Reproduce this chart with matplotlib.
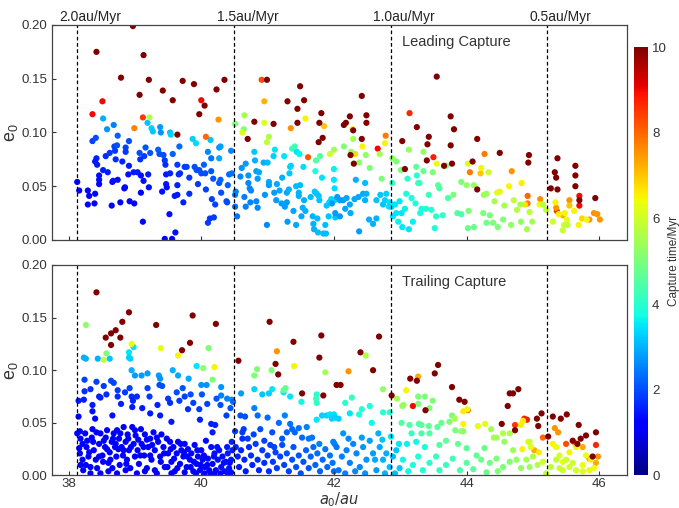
import numpy as np
import matplotlib.pyplot as plt
from matplotlib.cm import ScalarMappable
from matplotlib.colors import Normalize

plt.rcParams['font.family'] = ['Liberation Sans', 'DejaVu Sans']

# semi-major axis where migration speed hits the marked values (au)
speed_a = [38.13, 40.50, 42.86, 45.21]
speed_labels = ['2.0au/Myr', '1.5au/Myr', '1.0au/Myr', '0.5au/Myr']

# ---- leading capture: (a0, e0, capture time in Myr) ----
lead_late = [  # dark red, late captures
    (38.97, .199, 10), (38.42, .175, 10), (39.13, .172, 10), (38.79, .151, 10), (39.21, .149, 10),
    (39.07, .135, 10), (39.42, .139, 10), (39.57, .130, 10), (39.72, .148, 10), (39.89, .145, 10),
    (40.05, .125, 10), (39.97, .117, 10), (40.23, .140, 10), (40.35, .149, 10), (39.64, .098, 10),
    (40.99, .149, 10), (41.30, .129, 10), (41.55, .130, 10), (41.49, .143, 10), (41.45, .122, 10),
    (40.70, .094, 10), (40.80, .110, 10), (41.09, .108, 10), (41.45, .109, 10), (41.81, .118, 10),
    (41.78, .109, 10), (41.83, .095, 10), (41.77, .091, 10),
    (43.55, .152, 10), (42.42, .134, 10), (42.24, .115, 10), (42.18, .109, 10), (42.15, .107, 10),
    (42.49, .116, 10), (42.49, .109, 10), (42.29, .102, 10), (42.42, .094, 10), (42.25, .079, 10),
    (42.30, .071, 10), (43.03, .092, 10), (43.07, .066, 10), (43.25, .105, 10), (43.43, .096, 10),
    (43.41, .089, 10), (43.40, .074, 10), (43.66, .069, 10), (43.76, .115, 10), (43.81, .103, 10),
    (43.76, .088, 10), (43.78, .071, 10), (44.16, .094, 10), (44.09, .073, 10), (44.16, .047, 10),
    (44.50, .081, 10), (44.94, .079, 10), (44.93, .072, 10), (45.37, .076, 10), (45.33, .063, 10),
    (45.35, .058, 10), (45.27, .048, 10), (45.37, .047, 10), (45.64, .069, 10), (45.64, .060, 10),
    (45.64, .050, 10), (45.70, .037, 10), (45.94, .039, 10),
]
lead_mid = [  # red, orange, yellow and green captures
    (38.51, .129, 9.0), (38.36, .117, 9.0), (40.00, .130, 9.0), (39.12, .114, 8.5), (38.99, .104, 7.7),
    (40.07, .096, 8.0), (40.26, .112, 7.5), (40.91, .149, 8.3), (40.95, .129, 7.2), (41.35, .104, 7.5),
    (41.61, .077, 8.2), (41.85, .106, 7.0), (41.57, .113, 6.5), (40.95, .109, 6.2), (40.65, .116, 5.5),
    (40.64, .103, 5.0), (40.62, .100, 6.2), (41.02, .096, 5.6), (40.99, .091, 5.8), (40.51, .108, 5.0),
    (39.22, .114, 5.6), (41.94, .080, 6.0), (42.00, .084, 5.5),
    (42.66, .085, 9.0), (43.14, .118, 8.7), (43.50, .077, 8.8), (45.70, .041, 9.0), (45.70, .032, 9.0),
    (45.36, .027, 8.5), (42.78, .097, 7.8), (44.27, .080, 7.8), (44.05, .063, 7.8), (44.68, .064, 7.5),
    (44.21, .062, 7.0), (44.92, .041, 8.0), (44.92, .034, 7.8), (45.11, .038, 7.6), (45.35, .030, 7.5),
    (45.55, .037, 7.5), (45.55, .032, 7.0), (45.92, .025, 7.5), (45.97, .024, 7.5), (46.01, .019, 7.5),
    (45.85, .019, 7.5), (45.45, .023, 7.3),
    (42.28, .103, 6.5), (42.43, .087, 6.5), (42.32, .080, 6.8), (42.77, .090, 6.5), (43.55, .071, 6.3),
    (44.22, .067, 6.5), (44.50, .045, 6.5), (44.64, .050, 6.5), (44.83, .053, 6.6), (44.88, .033, 6.7),
    (45.10, .033, 6.3), (45.34, .035, 6.5), (45.39, .024, 6.5), (45.48, .025, 6.5), (45.62, .027, 6.5),
    (45.69, .014, 6.5), (45.74, .020, 6.8), (45.81, .019, 6.5), (45.51, .019, 6.3), (45.47, .014, 6.0),
    (44.02, .071, 6.2), (44.33, .063, 6.0), (44.46, .044, 6.2),
    (42.29, .094, 5.5), (42.26, .082, 5.3), (42.48, .079, 5.3), (42.38, .072, 5.2), (42.54, .067, 5.0),
    (42.15, .087, 5.0), (42.72, .057, 5.0), (42.69, .080, 5.5), (42.88, .076, 5.3), (42.94, .073, 5.0),
    (43.13, .084, 5.3), (43.01, .065, 5.0), (43.24, .068, 4.7), (43.35, .082, 5.3), (43.35, .064, 4.8),
    (43.49, .063, 5.0), (43.57, .051, 4.6), (43.69, .069, 5.0), (43.92, .054, 5.0), (43.80, .042, 5.0),
    (44.00, .051, 5.3), (44.11, .051, 5.3), (44.26, .042, 5.4), (44.30, .043, 5.4), (44.42, .036, 5.5),
    (44.57, .032, 5.5), (44.71, .037, 5.8), (44.76, .028, 5.7), (44.81, .033, 5.5), (44.99, .017, 5.5),
    (44.95, .026, 5.8), (45.15, .033, 5.8), (45.20, .028, 5.8), (45.30, .017, 6.0), (45.45, .009, 5.9),
    (45.52, .014, 5.8), (44.03, .027, 5.0), (44.25, .025, 5.0), (44.35, .023, 5.0), (44.40, .016, 5.0),
    (44.47, .012, 5.0), (44.55, .019, 5.1), (44.67, .014, 5.3), (44.82, .017, 5.3), (44.91, .010, 5.5),
    (44.02, .011, 4.8), (44.11, .012, 4.8), (44.30, .016, 4.9),
]
lead_early = [  # blue to cyan, early captures
    (38.13, .054, 1.3), (38.16, .046, 1.3), (38.29, .046, 1.3), (38.31, .041, 1.3), (38.29, .033, 1.3),
    (38.39, .034, 1.3), (38.40, .043, 1.3), (38.36, .092, 1.9), (38.41, .095, 2.0), (38.42, .076, 1.6),
    (38.40, .073, 1.5), (38.43, .070, 1.5), (38.46, .060, 1.4), (38.46, .056, 1.4), (38.46, .052, 1.3),
    (38.52, .065, 1.5), (38.56, .078, 1.7), (38.59, .063, 1.5), (38.62, .081, 1.8), (38.66, .054, 1.3),
    (38.65, .032, 1.3), (38.69, .087, 1.9), (38.70, .083, 1.8), (38.71, .075, 1.7), (38.73, .088, 2.0),
    (38.74, .097, 2.2), (38.67, .055, 1.4), (38.74, .056, 1.4), (38.81, .073, 1.6), (38.85, .049, 1.3),
    (38.86, .086, 1.9), (38.84, .048, 1.3), (38.78, .035, 1.3), (38.86, .082, 1.8), (38.91, .092, 2.0),
    (38.91, .069, 1.5), (38.90, .061, 1.4), (38.92, .036, 1.3), (38.98, .063, 1.5), (38.99, .034, 1.3),
    (39.04, .063, 1.5), (39.07, .081, 2.0), (39.08, .075, 1.7), (39.09, .060, 1.4), (39.09, .044, 1.3),
    (39.12, .017, 1.3), (39.13, .055, 1.4), (39.14, .078, 1.8), (39.16, .086, 2.1), (39.20, .061, 1.5),
    (39.21, .049, 1.4), (39.23, .081, 2.1), (39.35, .084, 2.2), (39.37, .080, 2.0), (39.41, .045, 1.4),
    (39.43, .079, 2.0), (39.45, .074, 1.8), (39.46, .070, 1.7), (39.47, .061, 1.5), (39.45, .001, 1.3),
    (39.47, .052, 1.5), (39.48, .049, 1.4), (39.52, .024, 1.4), (39.53, .062, 1.6), (39.57, .080, 2.2),
    (39.56, .001, 1.3), (39.61, .007, 1.4), (39.60, .041, 1.5), (39.64, .070, 1.8), (39.64, .051, 1.6),
    (39.64, .042, 1.5), (39.66, .061, 1.7), (39.67, .087, 2.3), (39.68, .062, 1.7), (39.73, .035, 1.6),
    (39.75, .068, 1.8), (39.78, .068, 1.9), (39.82, .058, 1.8), (39.82, .043, 1.7), (39.90, .068, 2.0),
    (39.93, .065, 2.0), (39.95, .052, 1.8), (39.97, .065, 2.0), (40.00, .062, 2.0), (40.04, .070, 2.2),
    (40.06, .062, 2.0), (40.07, .047, 1.9), (40.10, .016, 1.8), (40.13, .020, 1.8), (40.15, .064, 2.1),
    (40.15, .076, 2.4), (40.16, .038, 1.9), (40.18, .057, 2.1), (40.19, .021, 1.8), (40.21, .033, 1.9),
    (40.27, .053, 2.1), (40.29, .056, 2.2), (40.30, .044, 2.0), (40.38, .036, 2.0), (40.39, .035, 2.0),
    (40.40, .051, 2.2), (40.42, .061, 2.3), (40.45, .083, 2.6), (40.46, .062, 2.4),
    (38.52, .113, 3.0), (38.58, .103, 2.7), (38.68, .107, 2.5), (39.19, .109, 3.2), (39.25, .104, 3.3),
    (39.27, .101, 3.2), (39.38, .105, 2.8), (39.53, .100, 3.2), (39.54, .098, 3.3), (39.39, .100, 2.7),
    (39.87, .094, 3.3), (39.92, .090, 3.4), (40.14, .093, 3.2), (40.10, .082, 2.6), (40.27, .086, 2.7),
    (40.29, .087, 2.8), (40.27, .076, 2.9),
    (40.52, .045, 2.5), (40.51, .042, 2.5), (40.54, .022, 2.4), (40.51, .031, 2.4), (40.59, .059, 2.6),
    (40.61, .067, 2.7), (40.65, .040, 2.5), (40.67, .071, 2.8), (40.67, .031, 2.5), (40.71, .060, 2.7),
    (40.71, .053, 2.6), (40.73, .048, 2.6), (40.74, .035, 2.5), (40.75, .046, 2.6), (40.80, .082, 3.2),
    (40.81, .074, 3.0), (40.83, .064, 2.8), (40.83, .036, 2.6), (40.85, .030, 2.6), (40.85, .057, 2.8),
    (40.87, .063, 2.9), (40.94, .072, 3.0), (40.96, .042, 2.7), (40.99, .014, 2.6), (41.00, .072, 3.1),
    (41.02, .054, 2.9), (41.02, .051, 2.8), (41.09, .078, 3.3), (41.10, .044, 2.8), (41.11, .084, 3.5),
    (41.13, .037, 2.8), (41.14, .052, 2.9), (41.18, .046, 2.9), (41.21, .034, 2.8), (41.22, .058, 3.0),
    (41.25, .078, 3.5), (41.26, .031, 2.8), (41.29, .044, 2.9), (41.29, .035, 2.8), (41.30, .017, 2.8),
    (41.32, .047, 3.0), (41.33, .062, 3.2), (41.34, .068, 3.3), (41.35, .069, 3.3), (41.37, .085, 4.2),
    (41.39, .027, 2.9), (41.41, .087, 4.3), (41.43, .050, 3.1), (41.43, .014, 2.9), (41.44, .082, 3.5),
    (41.47, .044, 3.0), (41.47, .041, 3.0), (41.49, .051, 3.1), (41.48, .080, 3.6), (41.51, .022, 2.9),
    (41.53, .030, 3.0), (41.54, .068, 3.4), (41.55, .037, 3.0), (41.57, .027, 3.0), (41.65, .040, 3.1),
    (41.68, .022, 3.0), (41.69, .015, 3.0), (41.70, .010, 3.0), (41.71, .045, 3.2), (41.72, .064, 3.8),
    (41.73, .074, 4.5), (41.74, .043, 3.2), (41.75, .020, 3.1), (41.76, .007, 3.1), (41.77, .041, 3.2),
    (41.78, .037, 3.2), (41.79, .078, 4.5), (41.82, .058, 3.5), (41.84, .006, 3.1), (41.88, .006, 3.1),
    (41.87, .014, 3.1), (41.89, .032, 3.2), (41.92, .022, 3.2), (41.93, .035, 3.3), (41.96, .038, 3.3),
    (42.00, .066, 3.6), (42.00, .056, 3.5), (42.01, .048, 3.4), (42.01, .037, 3.3), (42.02, .021, 3.2),
    (42.88, .053, 4.2), (43.11, .057, 4.0), (43.25, .060, 4.0), (43.27, .053, 4.2), (43.29, .053, 4.2),
    (43.43, .042, 4.2), (43.59, .048, 4.4), (43.72, .039, 4.5), (43.86, .025, 4.5), (43.92, .024, 4.4),
    (43.09, .043, 3.8), (43.17, .039, 3.8), (43.23, .034, 3.8), (43.32, .029, 3.9), (43.39, .029, 3.9),
    (43.47, .028, 4.0), (43.54, .022, 4.0), (43.52, .011, 3.8), (43.64, .023, 4.1), (43.19, .017, 3.6),
    (43.03, .012, 3.5), (43.13, .010, 3.5), (42.97, .017, 3.6), (43.30, .025, 3.8),
    (41.97, .034, 2.8), (42.05, .040, 2.8), (42.09, .037, 2.8), (42.14, .037, 2.8), (42.19, .039, 2.9),
    (42.24, .033, 2.9), (42.31, .038, 2.9), (42.37, .040, 2.9), (42.44, .043, 2.9), (42.49, .043, 3.0),
    (42.47, .037, 3.0), (42.02, .025, 2.8), (42.09, .022, 2.8), (42.17, .029, 2.9), (42.25, .025, 2.9),
    (42.33, .056, 3.0), (42.47, .053, 3.1), (42.38, .008, 2.8), (42.53, .019, 3.0), (42.59, .015, 3.0),
    (42.64, .020, 3.0), (42.70, .042, 3.2), (42.77, .037, 3.3), (42.79, .043, 3.3), (42.83, .031, 3.4),
    (42.84, .035, 3.4), (42.87, .031, 3.4), (42.92, .033, 3.5), (42.99, .036, 3.5), (42.94, .025, 3.5),
    (42.89, .022, 3.5), (43.02, .025, 3.5), (42.74, .033, 3.2), (42.64, .037, 3.2), (43.07, .029, 3.6),
]

# ---- trailing capture: (a0, e0, capture time in Myr) ----
trail_late = [
    (38.42, .174, 10), (38.91, .155, 10), (38.81, .146, 10), (38.71, .138, 10), (38.64, .135, 10),
    (38.56, .131, 10), (38.64, .124, 10), (38.78, .131, 10), (39.32, .143, 10), (39.87, .152, 10),
    (39.83, .126, 10), (39.71, .119, 10), (40.22, .144, 10), (40.56, .109, 10), (41.03, .146, 10),
    (41.39, .127, 10), (41.81, .133, 10), (41.78, .112, 10), (41.12, .106, 10), (41.16, .096, 10),
    (41.52, .078, 10), (41.84, .076, 10), (42.04, .086, 10),
    (42.68, .132, 10), (42.40, .117, 10), (42.59, .100, 10), (42.10, .086, 10), (42.87, .076, 10),
    (43.57, .105, 10), (43.52, .097, 10), (43.15, .092, 10), (43.25, .090, 10), (43.78, .084, 10),
    (43.89, .072, 10), (43.97, .070, 10), (43.38, .062, 10), (44.78, .082, 10), (44.65, .078, 10),
    (44.70, .078, 10), (44.62, .066, 10), (44.53, .049, 10), (44.73, .043, 10), (45.13, .059, 10),
    (45.06, .054, 10), (45.08, .047, 10), (45.30, .056, 10), (45.42, .054, 10), (45.51, .058, 10),
    (45.69, .048, 10), (45.23, .037, 10), (45.95, .041, 10), (45.80, .038, 10), (45.72, .035, 10),
    (45.60, .033, 10), (45.67, .030, 10), (45.90, .018, 10), (43.19, .066, 9.0),
]
trail_mid = [
    (41.14, .118, 7.5), (41.40, .104, 6.5), (40.20, .103, 6.5), (39.65, .114, 6.5), (39.39, .121, 6.3),
    (38.95, .125, 6.3), (38.53, .110, 5.8), (38.26, .143, 5.2), (38.57, .116, 5.0), (40.11, .121, 5.0),
    (40.03, .102, 5.2), (40.17, .091, 5.0), (40.84, .101, 5.0), (40.80, .095, 5.0), (41.06, .100, 5.0),
    (41.87, .098, 5.5), (41.27, .083, 4.7), (41.24, .081, 4.7),
    (44.87, .054, 8.8), (44.91, .053, 8.8), (44.73, .048, 8.5), (45.95, .029, 8.7), (45.50, .030, 8.3),
    (45.15, .036, 8.0), (42.22, .099, 7.5), (43.27, .094, 7.3), (44.02, .062, 7.7), (45.33, .045, 7.5),
    (45.38, .041, 7.5), (45.63, .031, 7.5), (45.75, .027, 7.3), (45.85, .016, 7.6), (45.98, .018, 7.5),
    (45.95, .012, 7.3), (45.02, .024, 7.3),
    (43.09, .081, 6.5), (43.95, .061, 6.6), (44.01, .063, 6.5), (43.95, .049, 6.5), (44.17, .047, 6.3),
    (44.28, .049, 6.2), (44.85, .052, 6.6), (44.82, .048, 6.6), (44.84, .025, 6.5), (44.93, .032, 6.3),
    (45.09, .022, 6.6), (45.30, .030, 6.5), (45.35, .027, 6.3), (45.55, .022, 6.5), (45.65, .027, 6.5),
    (45.80, .019, 6.4), (45.87, .015, 6.6), (45.92, .007, 6.4), (45.75, .010, 6.3), (45.45, .013, 6.3),
    (45.40, .019, 6.1), (45.15, .013, 6.0), (44.97, .027, 6.2),
    (42.48, .114, 5.6), (42.74, .082, 5.3), (42.95, .073, 5.5), (43.03, .066, 5.5), (43.05, .067, 5.3),
    (43.27, .075, 5.0), (43.37, .075, 5.0), (43.27, .068, 5.0), (43.44, .064, 5.0), (43.49, .071, 5.0),
    (43.78, .057, 5.0), (43.82, .054, 5.5), (43.92, .042, 5.3), (43.95, .042, 5.2), (44.37, .044, 5.5),
    (44.41, .036, 5.5), (44.45, .036, 5.5), (44.55, .040, 5.7), (44.65, .040, 5.6), (44.95, .032, 6.0),
    (44.57, .032, 5.3), (44.70, .024, 5.4), (44.75, .015, 5.3), (44.90, .015, 5.5), (45.00, .018, 5.6),
    (45.07, .010, 5.7), (45.20, .002, 5.8), (45.35, .015, 5.8), (45.27, .008, 5.8), (45.45, .005, 6.0),
    (45.55, .008, 6.0), (45.65, .005, 6.0), (45.75, .004, 6.2), (45.85, .005, 6.3), (45.40, .007, 5.9),
    (45.50, .015, 6.0), (45.60, .012, 6.0),
    (43.02, .050, 4.5), (43.14, .048, 4.5), (43.28, .049, 4.5), (43.32, .048, 4.6), (43.43, .047, 4.7),
    (43.62, .050, 4.8), (43.74, .051, 5.0), (43.83, .043, 5.0), (43.17, .040, 4.2), (43.32, .040, 4.4),
    (43.44, .040, 4.5), (43.56, .046, 4.6), (43.69, .033, 4.7), (43.59, .029, 4.5), (43.87, .030, 4.7),
    (44.00, .026, 4.6), (44.15, .019, 4.7), (44.27, .026, 4.8), (44.22, .015, 4.8), (44.35, .012, 4.9),
    (44.45, .016, 5.0), (44.55, .008, 5.0), (44.65, .013, 5.1), (44.47, .004, 5.0), (44.30, .003, 4.8),
    (44.10, .006, 4.6), (44.00, .012, 4.5), (43.90, .005, 4.4), (43.79, .016, 4.3), (43.69, .010, 4.2),
    (43.59, .005, 4.1), (43.54, .018, 4.2), (43.44, .012, 4.0), (43.34, .005, 3.9), (43.27, .018, 3.9),
    (43.19, .010, 3.8), (43.12, .004, 3.7), (43.04, .015, 3.7), (44.82, .007, 5.3), (44.95, .008, 5.4),
]
trail_early = [
    (38.23, .112, 3.0), (38.26, .111, 3.0), (38.44, .111, 3.0), (38.62, .111, 3.2), (38.91, .117, 3.5),
    (38.91, .112, 3.3), (38.93, .111, 3.3), (38.98, .122, 3.5), (38.95, .100, 3.0), (39.00, .095, 2.8),
    (39.10, .095, 2.8), (39.19, .097, 2.8), (39.36, .095, 2.8), (39.38, .092, 2.7), (39.57, .100, 3.0),
    (39.65, .095, 2.9), (39.81, .092, 2.9), (39.93, .104, 3.5), (40.00, .086, 2.7), (40.08, .086, 2.7),
    (40.30, .084, 2.7), (40.30, .076, 2.5), (40.39, .073, 2.5), (40.46, .072, 2.6), (40.60, .078, 2.8),
    (40.80, .082, 3.3), (40.92, .077, 3.2), (41.02, .078, 3.3), (41.07, .082, 3.5), (41.24, .079, 3.5),
    (41.34, .075, 3.5), (41.51, .070, 3.7), (41.74, .077, 4.0), (41.74, .069, 4.0), (41.73, .073, 4.2),
    (38.15, .071, 1.5), (38.15, .056, 1.3), (38.24, .091, 1.9), (38.24, .080, 1.7), (38.23, .072, 1.5),
    (38.33, .082, 1.7), (38.36, .067, 1.5), (38.36, .061, 1.4), (38.40, .054, 1.3), (38.42, .089, 1.9),
    (38.46, .075, 1.6), (38.48, .074, 1.6), (38.53, .085, 1.8), (38.57, .077, 1.7), (38.64, .090, 2.0),
    (38.68, .088, 1.9), (38.66, .057, 1.4), (38.74, .081, 1.8), (38.74, .075, 1.7), (38.79, .068, 1.6),
    (38.85, .079, 1.8), (38.92, .083, 1.9), (38.95, .075, 1.7), (38.97, .071, 1.6), (38.96, .065, 1.5),
    (39.03, .075, 1.7), (39.11, .064, 1.5), (39.19, .083, 1.9), (39.22, .075, 1.8), (39.23, .059, 1.5),
    (39.34, .067, 1.6), (39.37, .086, 2.0), (39.38, .057, 1.5), (39.41, .085, 2.0), (39.50, .073, 1.8),
    (39.53, .069, 1.7), (39.55, .051, 1.5), (39.63, .079, 2.0), (39.67, .071, 1.8), (39.72, .083, 2.1),
    (39.75, .075, 1.9), (39.80, .063, 1.7), (39.84, .077, 2.0), (39.88, .069, 1.9), (39.97, .063, 1.8),
    (39.98, .053, 1.6), (40.01, .077, 2.1), (40.09, .068, 1.9), (40.15, .049, 1.6), (40.17, .041, 1.5),
    (40.21, .048, 1.6), (40.23, .073, 2.1), (40.29, .067, 2.0), (40.38, .057, 1.9), (40.44, .064, 2.1),
    (40.48, .070, 2.3),
    (38.13, .040, 1.1), (38.17, .042, 1.1), (38.18, .035, 1.1), (38.16, .026, 1.1), (38.17, .021, 1.1),
    (38.21, .015, 1.1), (38.18, .010, 1.1), (38.22, .005, 1.1), (38.27, .027, 1.1), (38.28, .033, 1.1),
    (38.30, .018, 1.1), (38.33, .008, 1.1), (38.35, .036, 1.1), (38.36, .044, 1.2), (38.38, .024, 1.1),
    (38.41, .015, 1.1), (38.43, .007, 1.1), (38.46, .030, 1.1), (38.48, .040, 1.2), (38.51, .019, 1.1),
    (38.52, .013, 1.1), (38.55, .027, 1.1), (38.56, .036, 1.1), (38.58, .043, 1.2), (38.60, .012, 1.1),
    (38.62, .022, 1.1), (38.65, .032, 1.1), (38.66, .007, 1.1), (38.68, .040, 1.2), (38.70, .027, 1.1),
    (38.72, .018, 1.1), (38.73, .043, 1.2), (38.76, .035, 1.1), (38.77, .010, 1.1), (38.80, .027, 1.1),
    (38.82, .019, 1.1), (38.83, .046, 1.2), (38.86, .032, 1.1), (38.88, .015, 1.1), (38.89, .039, 1.2),
    (38.91, .024, 1.1), (38.93, .007, 1.1), (38.96, .046, 1.2), (38.98, .030, 1.1), (39.00, .018, 1.1),
    (39.01, .038, 1.2), (39.04, .024, 1.1), (39.06, .011, 1.1), (39.09, .044, 1.2), (39.10, .030, 1.1),
    (39.14, .019, 1.1), (39.15, .039, 1.2), (39.18, .007, 1.1), (39.20, .027, 1.1), (39.23, .035, 1.2),
    (39.25, .015, 1.1), (39.28, .041, 1.2), (39.30, .024, 1.1), (39.33, .002, 1.1), (39.35, .032, 1.2),
    (39.38, .018, 1.1), (39.40, .039, 1.2), (39.43, .027, 1.2), (39.45, .008, 1.1), (39.48, .035, 1.2),
    (39.50, .021, 1.2), (39.53, .032, 1.2), (39.55, .013, 1.1), (39.58, .027, 1.2), (39.60, .004, 1.1),
    (39.63, .021, 1.2), (39.65, .032, 1.2), (39.68, .011, 1.2), (39.70, .024, 1.2), (39.73, .018, 1.2),
    (39.75, .030, 1.3), (39.78, .008, 1.2), (39.80, .025, 1.3), (39.83, .015, 1.2), (39.85, .021, 1.3),
    (39.88, .004, 1.2), (39.90, .029, 1.3), (39.93, .011, 1.2), (39.95, .018, 1.3), (39.98, .005, 1.2),
    (40.00, .024, 1.3), (40.02, .015, 1.3), (40.05, .008, 1.3), (40.07, .033, 1.4), (40.10, .016, 1.3),
    (40.12, .005, 1.3), (40.15, .027, 1.4), (40.17, .011, 1.3), (40.20, .021, 1.4), (40.22, .005, 1.3),
    (40.25, .015, 1.4), (40.27, .024, 1.4), (40.30, .008, 1.4), (40.32, .018, 1.4), (40.35, .004, 1.4),
    (40.37, .013, 1.4), (40.40, .021, 1.5), (40.42, .007, 1.4), (40.45, .015, 1.5), (40.46, .032, 1.6),
    (40.45, .003, 1.4),
    (38.21, .030, 1.1), (38.25, .040, 1.2), (38.31, .022, 1.1), (38.37, .032, 1.1), (38.42, .041, 1.2),
    (38.46, .018, 1.1), (38.53, .033, 1.1), (38.58, .025, 1.1), (38.63, .015, 1.1), (38.67, .035, 1.1),
    (38.71, .030, 1.1), (38.75, .025, 1.1), (38.78, .040, 1.2), (38.83, .024, 1.1), (38.87, .011, 1.1),
    (38.90, .035, 1.1), (38.94, .027, 1.1), (39.00, .043, 1.2), (39.05, .034, 1.1), (39.08, .019, 1.1),
    (39.13, .027, 1.1), (39.18, .034, 1.2), (39.23, .019, 1.1), (39.26, .029, 1.1), (39.33, .036, 1.2),
    (39.39, .013, 1.1), (39.44, .021, 1.2), (39.49, .008, 1.1), (39.54, .025, 1.2), (39.59, .016, 1.2),
    (39.64, .007, 1.1), (39.69, .030, 1.2), (39.74, .022, 1.2), (39.79, .018, 1.2), (39.84, .008, 1.2),
    (39.89, .013, 1.2), (39.94, .024, 1.3), (39.99, .010, 1.2), (40.04, .019, 1.3), (40.09, .010, 1.3),
    (40.14, .002, 1.3), (40.19, .018, 1.4), (40.24, .027, 1.4), (40.29, .002, 1.3), (40.34, .012, 1.4),
    (40.39, .027, 1.5), (40.43, .012, 1.4), (40.47, .024, 1.5), (38.26, .010, 1.1), (38.33, .002, 1.1),
    (38.48, .002, 1.1), (38.60, .004, 1.1), (38.73, .002, 1.1), (38.86, .005, 1.1), (39.03, .002, 1.1),
    (39.15, .004, 1.1), (39.30, .005, 1.1), (39.55, .002, 1.1), (39.75, .003, 1.2), (39.92, .002, 1.2),
    (40.05, .002, 1.3), (40.20, .001, 1.3), (40.40, .002, 1.4),
    (40.51, .042, 1.8), (40.59, .057, 2.0), (40.62, .041, 1.8), (40.64, .044, 1.8), (40.66, .056, 2.0),
    (40.62, .035, 1.7), (40.70, .035, 1.8), (40.79, .039, 1.9), (40.80, .064, 2.5), (40.85, .057, 2.3),
    (40.89, .044, 2.0), (40.95, .033, 1.9), (41.00, .055, 2.3), (41.07, .041, 2.0), (41.10, .027, 1.9),
    (41.17, .050, 2.3), (41.22, .035, 2.1), (41.26, .057, 2.5), (41.29, .041, 2.2), (41.34, .049, 2.4),
    (41.37, .044, 2.3), (41.41, .041, 2.3), (41.47, .045, 2.4), (41.52, .036, 2.3), (41.59, .046, 2.5),
    (41.62, .035, 2.4), (41.67, .036, 2.4), (41.78, .030, 2.5), (41.82, .057, 3.3), (41.89, .057, 3.3),
    (41.94, .058, 3.5), (41.97, .055, 3.3), (42.00, .058, 3.4), (41.74, .053, 3.5),
    (40.52, .027, 1.6), (40.55, .018, 1.6), (40.57, .008, 1.5), (40.60, .024, 1.6), (40.65, .015, 1.6),
    (40.67, .004, 1.5), (40.72, .027, 1.7), (40.75, .019, 1.7), (40.77, .010, 1.6), (40.82, .030, 1.8),
    (40.85, .015, 1.7), (40.87, .005, 1.6), (40.92, .024, 1.8), (40.95, .012, 1.7), (41.00, .019, 1.8),
    (41.02, .004, 1.7), (41.04, .029, 1.9), (41.08, .013, 1.8), (41.12, .022, 1.9), (41.14, .007, 1.8),
    (41.19, .018, 1.9), (41.22, .029, 2.0), (41.25, .010, 1.9), (41.29, .021, 2.0), (41.32, .004, 1.9),
    (41.37, .015, 2.0), (41.39, .027, 2.1), (41.43, .008, 2.0), (41.47, .019, 2.1), (41.50, .002, 2.0),
    (41.54, .013, 2.1), (41.58, .024, 2.2), (41.62, .007, 2.1), (41.65, .018, 2.2), (41.69, .027, 2.3),
    (41.72, .010, 2.2), (41.75, .021, 2.3), (41.79, .004, 2.2), (41.83, .015, 2.3), (41.87, .025, 2.4),
    (41.90, .008, 2.3), (41.94, .019, 2.4), (41.98, .012, 2.4), (42.01, .030, 2.5), (42.00, .004, 2.3),
    (42.17, .069, 4.0), (42.27, .074, 4.2), (42.42, .063, 4.0), (42.54, .066, 3.9), (42.38, .058, 3.8),
    (42.57, .050, 3.7), (42.74, .060, 4.0), (42.84, .060, 4.0), (42.02, .055, 3.3), (42.07, .054, 3.3),
    (41.97, .054, 3.3), (42.24, .059, 3.5), (42.86, .037, 3.5), (42.98, .030, 3.5), (42.73, .034, 3.2),
    (43.10, .030, 3.6), (43.24, .032, 3.7), (43.37, .027, 3.8),
    (42.04, .027, 2.4), (42.12, .018, 2.5), (42.19, .024, 2.5), (42.24, .012, 2.5), (42.29, .030, 2.6),
    (42.34, .021, 2.6), (42.39, .008, 2.6), (42.44, .027, 2.7), (42.49, .015, 2.7), (42.54, .033, 2.8),
    (42.59, .021, 2.8), (42.64, .005, 2.8), (42.69, .027, 2.9), (42.74, .015, 3.0), (42.79, .021, 3.0),
    (42.84, .008, 3.1), (42.89, .018, 3.1), (42.94, .024, 3.2), (42.99, .007, 3.2), (42.07, .005, 2.4),
    (42.17, .002, 2.5), (42.32, .004, 2.6), (42.47, .002, 2.7), (42.62, .015, 2.9), (42.77, .002, 3.0),
    (42.92, .002, 3.1), (42.22, .035, 2.6), (42.42, .036, 2.8), (42.67, .040, 3.0), (41.99, .032, 2.5),
    (42.14, .040, 2.7),
]

fig = plt.figure(figsize=(6.79, 5.08), dpi=100)
ax1 = fig.add_axes([0.0766, 0.5276, 0.847, 0.4232])
ax2 = fig.add_axes([0.0766, 0.064, 0.847, 0.4144])
cax = fig.add_axes([0.9337, 0.064, 0.0206, 0.843])

norm = Normalize(0, 10)
panels = [(ax1, lead_early + lead_mid + lead_late, 'Leading Capture'),
          (ax2, trail_early + trail_mid + trail_late, 'Trailing Capture')]
for ax, pts, title in panels:
    d = np.array(pts)
    ax.scatter(d[:, 0], d[:, 1], c=d[:, 2], cmap='jet', norm=norm, s=20, linewidths=0)
    for xv in speed_a:
        ax.axvline(xv, color='black', ls='--', lw=0.9, dashes=(3, 2))
    ax.set_xlim(37.75, 46.42)
    ax.set_ylim(0, 0.2)
    ax.set_xticks([38, 40, 42, 44, 46])
    ax.set_yticks([0, 0.05, 0.10, 0.15, 0.20])
    ax.set_yticklabels(['0.00', '0.05', '0.10', '0.15', '0.20'])
    ax.tick_params(direction='in', length=3, labelsize=9.5, colors='#333333', top=False, right=False)
    for sp in ax.spines.values():
        sp.set_color('#444444')
        sp.set_linewidth(0.9)
    ax.set_ylabel(r'$\mathregular{e_0}$', fontsize=13, color='#333333', labelpad=1)
    ax.text(0.609, 0.92, title, transform=ax.transAxes, fontsize=10.5,
            color='#333333', va='center', ha='left')

ax1.set_xticklabels([])
ax2.tick_params(axis='x', pad=2)
ax2.set_xlabel(r'$a_0/au$', fontsize=10.5, color='#333333', labelpad=0)

# speed labels sit a little right of each dashed line
top = ax1.twiny()
top.set_xlim(ax1.get_xlim())
top.set_xticks([v + 0.2 for v in speed_a])
top.set_xticklabels(speed_labels)
top.tick_params(length=0, labelsize=10, colors='#222222', pad=1)
for sp in top.spines.values():
    sp.set_visible(False)

cb = fig.colorbar(ScalarMappable(norm=norm, cmap='jet'), cax=cax)
cb.set_ticks([0, 2, 4, 6, 8, 10])
cb.ax.tick_params(length=0, labelsize=9.5, colors='#333333', pad=3)
cb.outline.set_visible(False)
cb.set_label('Capture time/Myr', fontsize=8.5, color='#333333', labelpad=1)

fig.savefig('out.png', dpi=100)
